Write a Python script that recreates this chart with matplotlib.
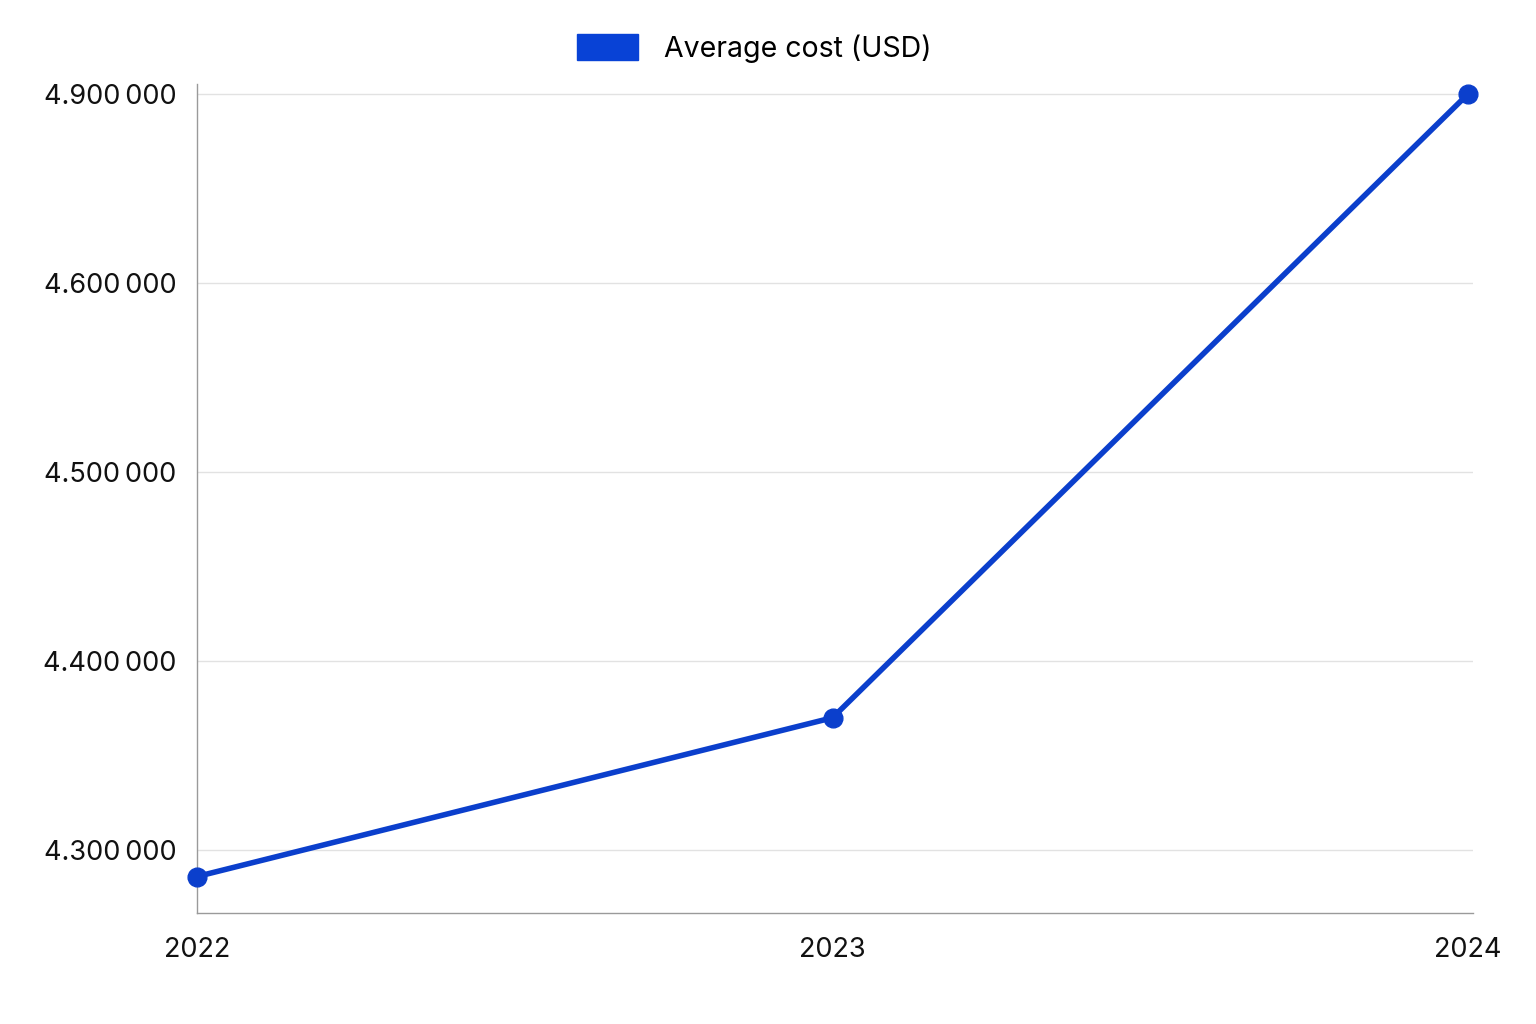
import matplotlib
matplotlib.use("Agg")
import matplotlib.pyplot as plt
from matplotlib.patches import Patch
import numpy as np

plt.rcParams['font.family'] = ['Inter', 'DejaVu Sans']

# data
years = ["2022", "2023", "2024"]
avg_cost = [4286000, 4370000, 4900000]
y_ticks = [4300000, 4400000, 4500000, 4600000, 4900000]
y_tick_labels = ["4.300\u2009000", "4.400\u2009000", "4.500\u2009000",
                 "4.600\u2009000", "4.900\u2009000"]
series_name = "Average cost (USD)"

blue = "#0b3fcc"

# the axis of the original squeezes 4.6M-4.9M into one grid step
BREAK = 4600000
SQUEEZE = 3.0


def forward(v):
    v = np.asarray(v, dtype=float)
    return np.where(v <= BREAK, v, BREAK + (v - BREAK) / SQUEEZE)


def inverse(v):
    v = np.asarray(v, dtype=float)
    return np.where(v <= BREAK, v, BREAK + (v - BREAK) * SQUEEZE)


fig = plt.figure(figsize=(15.36, 10.24), dpi=100)
ax = fig.add_axes([0.1283, 0.1084, 0.959 - 0.1283, 0.918 - 0.1084])

x = np.arange(len(years))
ax.set_yscale('function', functions=(forward, inverse))
ax.plot(x, avg_cost, color=blue, linewidth=4, marker='o', markersize=13.5,
        solid_capstyle='round', zorder=3, clip_on=False)

ax.set_xlim(0, len(years) - 1 + 0.008)
ax.set_ylim(4266700, 4916000)
ax.set_xticks(x)
ax.set_xticklabels(years)
ax.set_yticks(y_ticks)
ax.set_yticklabels(y_tick_labels)
ax.minorticks_off()

ax.grid(axis='y', color='#e2e2e2', linewidth=1)
ax.set_axisbelow(True)
ax.tick_params(length=0, labelsize=19.5, colors='#111111')
ax.tick_params(axis='y', pad=15)
ax.tick_params(axis='x', pad=17)

for side in ['top', 'right']:
    ax.spines[side].set_visible(False)
for side in ['left', 'bottom']:
    ax.spines[side].set_color('#9a9a9a')
    ax.spines[side].set_linewidth(1)

handle = Patch(facecolor="#0842d6", edgecolor="#0842d6", label=series_name)
fig.legend(handles=[handle], loc='center', bbox_to_anchor=(0.491, 0.953),
           frameon=False, fontsize=20.5, handlelength=2.15, handleheight=1.05,
           handletextpad=0.9)

fig.savefig("out.png", dpi=100)
